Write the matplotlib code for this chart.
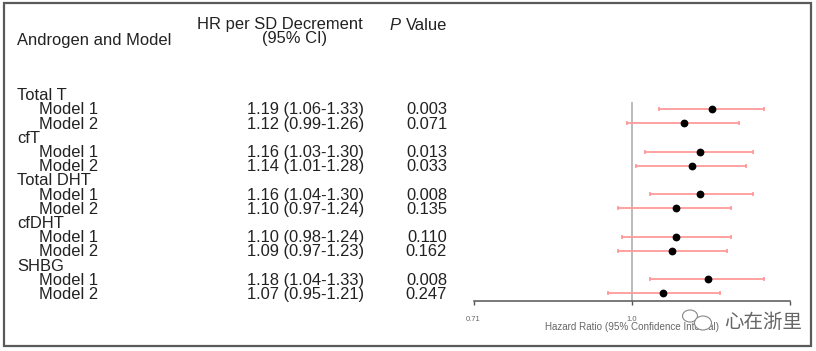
import matplotlib
matplotlib.use('Agg')
import matplotlib.pyplot as plt
from matplotlib.patches import Rectangle, Ellipse
from matplotlib.ticker import NullLocator
from matplotlib.transforms import blended_transform_factory, offset_copy

plt.rcParams['font.family'] = ['Liberation Sans', 'DejaVu Sans']

W, H = 816, 351
FS = 11.85

# table rows, top to bottom
labels = ['Total T', 'Model 1', 'Model 2', 'cfT', 'Model 1', 'Model 2', 'Total DHT', 'Model 1', 'Model 2',
          'cfDHT', 'Model 1', 'Model 2', 'SHBG', 'Model 1', 'Model 2']
hr = [None, 1.19, 1.12, None, 1.16, 1.14, None, 1.16, 1.10, None, 1.10, 1.09, None, 1.18, 1.07]
lo = [None, 1.06, 0.99, None, 1.03, 1.01, None, 1.04, 0.97, None, 0.98, 0.97, None, 1.04, 0.95]
hi = [None, 1.33, 1.26, None, 1.30, 1.28, None, 1.30, 1.24, None, 1.24, 1.23, None, 1.33, 1.21]
pvals = [None, '0.003', '0.071', None, '0.013', '0.033', None, '0.008', '0.135', None, '0.110', '0.162',
         None, '0.008', '0.247']
x_ticks = [0.71, 1.0, 1.41]
x_ticklabels = ['0.71', '1.0', '']


def fx(px):
    return px / W


def fy(px):
    return 1 - px / H


fig = plt.figure(figsize=(W / 100, H / 100), dpi=100)

# outer frame
fig.add_artist(Rectangle((fx(4), fy(346)), fx(807), 343 / H, transform=fig.transFigure,
                         fill=False, ec='#5a5a5a', lw=1.6))

# forest plot axes, 0.71 at px 473 and 1.41 at px 790
ax = fig.add_axes([fx(473.5), fy(300.7), fx(317), (300.7 - 102) / H])
ax.set_xscale('log')
ax.set_xlim(0.71, 1.41)
ax.set_ylim(14.51, 0.507)
ax.axvline(1.0, color='#a8a8a8', lw=1.1, zorder=1)

for i in range(len(labels)):
    if hr[i] is None:
        continue
    ax.plot([lo[i], hi[i]], [i, i], color='#ff9a9a', lw=1.3, marker='|', ms=3, mew=1.2, zorder=2)
    ax.plot(hr[i], i, 'o', color='black', ms=4.6, zorder=3)

for s in ['top', 'left', 'right']:
    ax.spines[s].set_visible(False)
ax.spines['bottom'].set_color('#555555')
ax.spines['bottom'].set_linewidth(1.1)
ax.set_yticks([])
ax.xaxis.set_minor_locator(NullLocator())
ax.set_xticks(x_ticks)
ax.set_xticklabels(x_ticklabels, fontsize=5.5, color='#666666')
ax.tick_params(axis='x', length=3.2, width=1.0, color='#555555', pad=7.5)
ax.patch.set_alpha(0)

# table text, same rows as the plot, nudged down a pixel
trans = offset_copy(blended_transform_factory(fig.transFigure, ax.transData), fig=fig, y=-1, units='dots')
for i in range(len(labels)):
    if hr[i] is None:
        ax.text(fx(17), i, labels[i], transform=trans, fontsize=FS, va='center', color='#222222', clip_on=False)
    else:
        ax.text(fx(39), i, labels[i], transform=trans, fontsize=FS, va='center', color='#222222', clip_on=False)
        ci = '%.2f (%.2f-%.2f)' % (hr[i], lo[i], hi[i])
        ax.text(fx(364), i, ci, transform=trans, fontsize=FS, va='center', ha='right', color='#222222',
                clip_on=False)
        ax.text(fx(447), i, pvals[i], transform=trans, fontsize=FS, va='center', ha='right', color='#222222',
                clip_on=False)

# headers
fig.text(fx(17), fy(40), 'Androgen and Model', fontsize=FS, va='center', color='#222222')
fig.text(fx(280), fy(24), 'HR per SD Decrement', fontsize=FS, va='center', ha='center', color='#222222')
fig.text(fx(295), fy(38.5), '(95% CI)', fontsize=FS, va='center', ha='center', color='#222222')
fig.text(fx(389), fy(25), 'P', fontsize=FS, va='center', style='italic', color='#222222')
fig.text(fx(447), fy(25), 'Value', fontsize=FS, va='center', ha='right', color='#222222')

# axis title
fig.text(fx(632), fy(326.7), 'Hazard Ratio (95% Confidence Interval)', fontsize=7.1, va='center', ha='center',
         color='#666666')

# watermark
for cx, cy, w, h in [(690, 316, 15, 12), (703, 323, 17, 14)]:
    fig.add_artist(Ellipse((fx(cx), fy(cy)), w / W, h / H, transform=fig.transFigure, fc='white',
                           ec='#888888', lw=0.8, zorder=5))
fig.text(fx(724), fy(322), '心在浙里', fontsize=14, va='center', color='#666666', zorder=6,
         family=['Noto Sans CJK SC', 'DejaVu Sans'])

fig.savefig('out.png', dpi=100)
